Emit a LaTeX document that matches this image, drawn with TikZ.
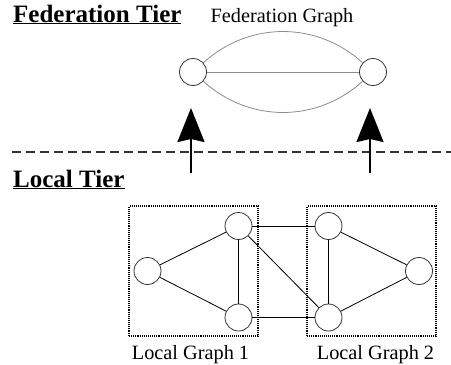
\documentclass[tikz,border=0pt]{standalone}
\usepackage{fontspec}
\setmainfont{Liberation Serif}
\usetikzlibrary{arrows.meta}
\begin{document}
\begin{tikzpicture}[x=1pt,y=-1pt,
  vertex/.style={circle,draw=black!80,line width=0.8pt,minimum size=27pt,inner sep=0pt},
  fedvertex/.style={vertex},
  fededge/.style={draw=black!45,line width=0.8pt},
  localedge/.style={draw=black,line width=0.8pt},
  tier/.style={font=\fontsize{25}{29}\selectfont\bfseries,anchor=base west,inner sep=0pt},
  caption/.style={font=\fontsize{20.3}{24}\selectfont,anchor=base,inner sep=0pt},
  groupbox/.style={draw,dash pattern=on 1.1pt off 1pt,line width=1.2pt,minimum width=129pt,minimum height=130pt,inner sep=0pt},
  liftarrow/.style={-{Stealth[length=34pt,width=27pt,inset=3pt]},line width=2pt}
]
\useasboundingbox (0,0) rectangle (451,365);

% tier headings
\node[tier] (fedtier) at (13,22) {\underline{Federation Tier}};
\node[tier] (loctier) at (13,187) {\underline{Local Tier}};

% separator between the tiers
\coordinate (sepL) at (12,152);
\coordinate (sepR) at (451,152);
\draw[dash pattern=on 9pt off 5pt,line width=1.3pt,black!80] (sepL) -- (sepR);

% federation graph
\node[caption] (fedcap) at (282,22) {Federation Graph};
\node[fedvertex] (fa) at (193,72) {};
\node[fedvertex] (fb) at (373,72) {};
\draw[fededge] (fa) -- (fb);
\draw[fededge] (fa) to[bend left=42] (fb);
\draw[fededge] (fa) to[bend right=42] (fb);

% arrows from the local tier up to the federation tier
\coordinate (up1s) at (191,173);
\coordinate (up1e) at (191,108);
\coordinate (up2s) at (370,173);
\coordinate (up2e) at (370,108);
\draw[liftarrow] (up1s) -- (up1e);
\draw[liftarrow] (up2s) -- (up2e);

% local graph 1
\node[groupbox] (box1) at (193.5,271) {};
\node[vertex] (a1) at (238.5,226) {};
\node[vertex] (a2) at (147.5,271) {};
\node[vertex] (a3) at (238.5,317.5) {};

% local graph 2
\node[groupbox] (box2) at (371.5,271) {};
\node[vertex] (b1) at (328.5,226) {};
\node[vertex] (b2) at (419,271) {};
\node[vertex] (b3) at (328.5,317.5) {};

% edges
\draw[localedge] (a2) -- (a1);
\draw[localedge] (a2) -- (a3);
\draw[localedge] (a1) -- (a3);
\draw[localedge] (b1) -- (b2);
\draw[localedge] (b2) -- (b3);
\draw[localedge] (b1) -- (b3);
\draw[localedge] (a1) -- (b1);
\draw[localedge] (a3) -- (b3);
\draw[localedge] (a1) -- (b3);

% captions
\node[caption] (cap1) at (190.5,359) {Local Graph 1};
\node[caption] (cap2) at (375.5,359) {Local Graph 2};
\end{tikzpicture}
\end{document}
